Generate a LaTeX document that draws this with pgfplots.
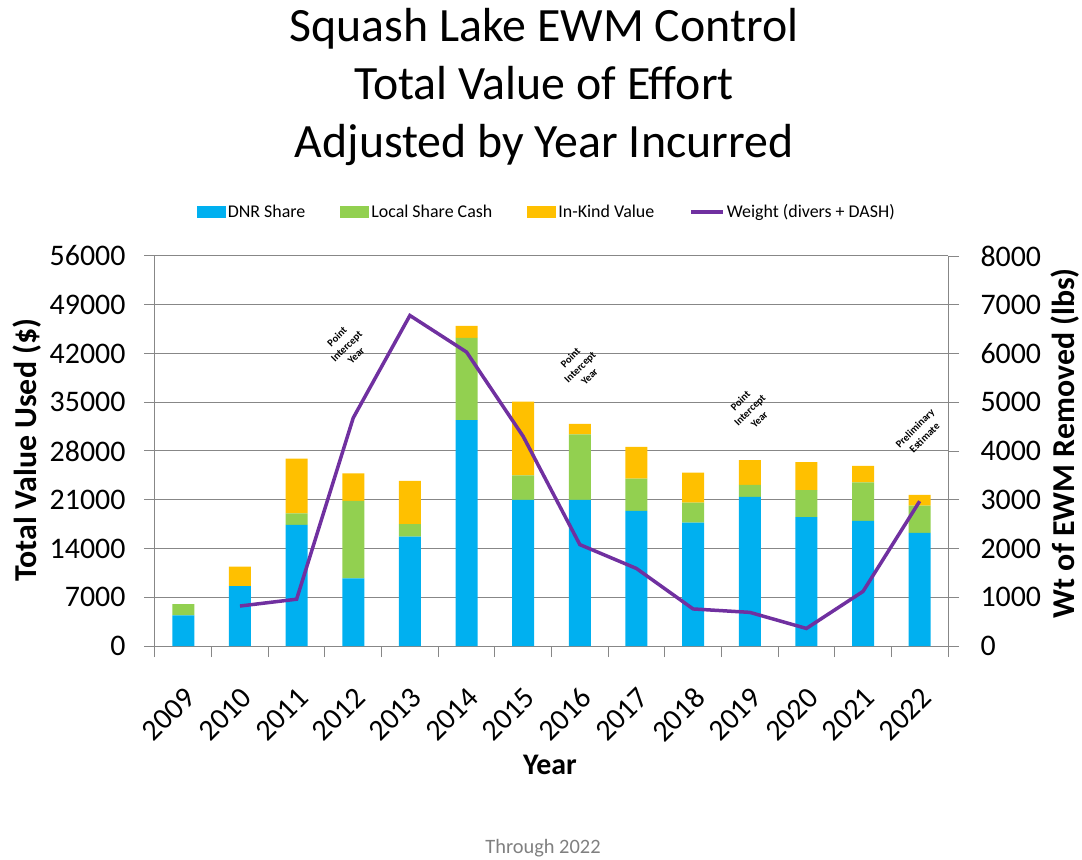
\documentclass[border=0pt]{standalone}
\usepackage{pgfplots}
\pgfplotsset{compat=1.18}
\usepackage{fontspec}
\setmainfont{Carlito}
\definecolor{dnr}{HTML}{00B0F0}
\definecolor{loc}{HTML}{92D050}
\definecolor{ink}{HTML}{FFC000}
\definecolor{wt}{HTML}{7030A0}
\definecolor{axgray}{HTML}{878787}
\tikzset{ann/.style={font=\fontsize{10.5}{13.5}\selectfont\bfseries, align=center, rotate=45}}
\pgfplotsset{
  wtlegend/.style={legend image code/.code={\draw[##1] (0bp,0bp) -- (32bp,0bp);}},
  barlegend/.style={legend image code/.code={\fill[##1] (0bp,-6bp) rectangle (29bp,6bp);}},
  common/.style={
    scale only axis, width=793bp, height=390bp,
    xmin=-0.5, xmax=13.5,
    axis line style={axgray, line width=1bp},
    tick style={axgray, line width=1bp},
    major tick length=11bp,
    tick align=outside,
    scaled y ticks=false,
    /pgf/number format/1000 sep={},
    /pgf/number format/assume math mode=true,
    yticklabel style={font=\fontsize{30}{30}\selectfont},
  },
}
\begin{document}
\begin{tikzpicture}
\useasboundingbox (-155bp,-214bp) rectangle (927bp,646bp);
\begin{axis}[common,
  ymin=0, ymax=56000,
  ytick={0,7000,...,56000},
  yticklabel style={xshift=-15bp},
  ybar stacked, bar width=22bp,
  axis x line*=bottom, axis y line*=left,
  xtick={-0.5,0.5,...,13.5}, xticklabels={},
  extra x ticks={0,1,...,13},
  extra x tick labels={2009,2010,2011,2012,2013,2014,2015,2016,2017,2018,2019,2020,2021,2022},
  extra x tick style={major tick length=0pt, xticklabel style={font=\fontsize{30}{30}\selectfont, rotate=45, anchor=east, yshift=-38bp, xshift=-25bp}},
  ymajorgrids, major grid style={axgray, line width=1bp},
  ylabel={Total Value Used (\$)},
  every axis y label/.style={at={(rel axis cs:-0.1614,0.5026)}, anchor=center, rotate=90, font=\fontsize{32}{32}\selectfont\bfseries},
  xlabel={Year},
  every axis x label/.style={at={(rel axis cs:0.498,-0.305)}, anchor=center, font=\fontsize{30}{30}\selectfont\bfseries},
  legend style={at={(rel axis cs:0.494,1.113)}, anchor=center, draw=none, fill=none, legend columns=4,
    font=\fontsize{18}{18}\selectfont,
    /tikz/every even column/.append style={column sep=33bp}},
  legend cell align=left,
]
\addplot[fill=dnr, draw=none, barlegend] coordinates {(0,4400) (1,8600) (2,17400) (3,9700) (4,15700) (5,32450) (6,21000) (7,21000) (8,19400) (9,17700) (10,21400) (11,18500) (12,17950) (13,16250)};
\addlegendentry{DNR Share}
\addplot[fill=loc, draw=none, barlegend] coordinates {(0,1600) (1,0) (2,1650) (3,11150) (4,1800) (5,11800) (6,3500) (7,9400) (8,4650) (9,2900) (10,1750) (11,3900) (12,5550) (13,3900)};
\addlegendentry{Local Share Cash}
\addplot[fill=ink, draw=none, barlegend] coordinates {(0,0) (1,2800) (2,7850) (3,3950) (4,6200) (5,1700) (6,10600) (7,1500) (8,4550) (9,4300) (10,3550) (11,4000) (12,2350) (13,1550)};
\addlegendentry{In-Kind Value}
\addlegendimage{wtlegend, wt, line width=3.5bp}
\addlegendentry{Weight (divers + DASH)}
\end{axis}
\begin{axis}[common,
  ymin=0, ymax=8000,
  ytick={0,1000,...,8000},
  yticklabel style={xshift=18bp},
  axis y line*=right, axis x line=none,
  ylabel={Wt of EWM Removed (lbs)},
  every axis y label/.style={at={(rel axis cs:1.1475,0.52)}, anchor=center, rotate=90, font=\fontsize{32}{32}\selectfont\bfseries},
]
\addplot[wt, line width=3.5bp] coordinates {(1,820) (2,960) (3,4680) (4,6780) (5,6030) (6,4300) (7,2080) (8,1590) (9,760) (10,690) (11,360) (12,1120) (13,2970)};
\node[ann] at (axis cs:2.88,6150) {Point\\Intercept\\Year};
\node[ann] at (axis cs:7,5720) {Point\\Intercept\\Year};
\node[ann] at (axis cs:10,4840) {Point\\Intercept\\Year};
\node[ann] at (axis cs:13,4370) {Preliminary\\Estimate};
\end{axis}
\node[align=center, font=\fontsize{48}{58}\selectfont] at (389bp,559bp) {Squash Lake EWM Control\\Total Value of Effort\\Adjusted by Year Incurred};
\node[font=\fontsize{20.5}{20.5}\selectfont, text=gray] at (388bp,-202bp) {Through 2022};
\end{tikzpicture}
\end{document}
